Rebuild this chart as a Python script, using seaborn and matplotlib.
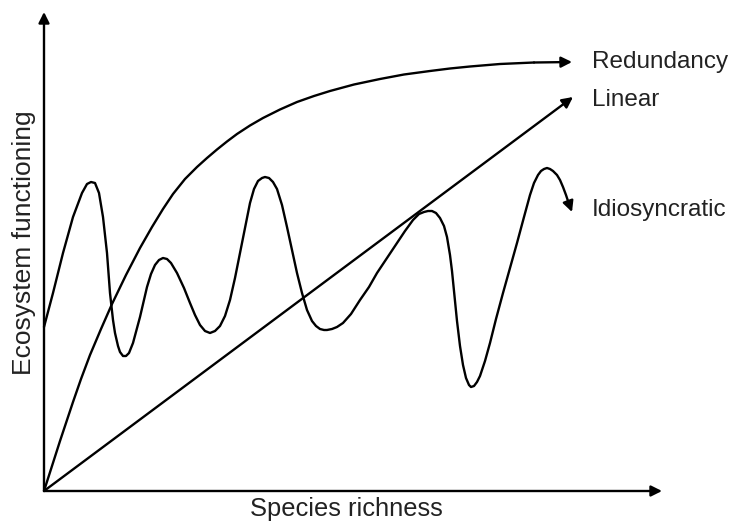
"""
Conceptual diagram: ecosystem functioning vs species richness under the
redundancy, linear and idiosyncratic hypotheses.
"""

import matplotlib
matplotlib.use("Agg")
import matplotlib.pyplot as plt
import pandas as pd
import seaborn as sns

# arbitrary units, origin at the axis corner
redundancy_x = [0, 8, 16, 23, 29, 37, 46, 57, 68, 82, 96, 108, 119, 129, 141,
                153, 163, 173, 183, 193, 206, 219, 236, 253, 270, 286, 310, 336,
                360, 386, 406, 426, 456, 490, 528]
redundancy_y = [0, 25, 50, 71, 89, 112, 136, 162, 187, 216, 243, 264, 282, 297,
                312, 324, 333, 341.5, 349.5, 357, 365.5, 373, 381.5, 389, 395,
                400, 406.5, 412, 416.5, 420, 422.5, 424.5, 427, 428.5, 429]

linear_x = [0, 529]
linear_y = [0, 394]

idio_x = [0, 9, 19, 29, 38, 43, 47, 51, 55, 59, 63, 66, 69, 71, 74, 76, 79, 82,
          85, 89, 96, 103, 107, 111, 115, 119, 123, 127, 133, 140, 146, 151,
          156, 161, 166, 171, 176, 181, 186, 191, 196, 201, 206, 210, 214, 218,
          221, 225, 229, 233, 238, 243, 248, 253, 258, 263, 268, 272, 276, 280,
          283, 288, 293, 299, 307, 316, 325, 333, 343, 353, 361, 369, 375, 380,
          384, 388, 392, 396, 400, 403, 406, 408, 410, 413, 416, 419, 422, 425,
          427, 430, 433, 436, 441, 446, 452, 459, 466, 473, 480, 486, 490, 494,
          497, 500, 503, 506, 509, 513, 516, 519, 522, 524]
idio_y = [164, 198, 238, 274, 298, 307, 309, 308, 298, 274, 238, 198, 171, 158,
          145, 139, 135, 135, 138, 148, 174, 204, 217, 226, 231, 233, 232, 228,
          218, 203, 188, 176, 166, 160, 158, 160, 165, 175, 191, 213, 238, 263,
          288, 302, 310, 313, 314, 313, 309, 302, 286, 264, 241, 218, 198, 181,
          170, 165, 162, 161, 161, 162, 164, 168, 177, 191, 204, 218, 233, 248,
          260, 271, 277, 279, 280, 280, 278, 273, 265, 254, 236, 220, 200, 170,
          145, 126, 113, 106, 104, 105, 109, 115, 130, 148, 172, 198, 223, 248,
          274, 296, 308, 316, 320, 322, 323, 322, 320, 316, 311, 304, 296, 290]
idio_tip = (528, 279)

y_axis_top = 479
x_axis_end = 618

curve_labels = ["Redundancy", "Linear", "Idiosyncratic"]
label_y = [429, 391, 281]

INK = "black"
TEXT = "#222222"
LW = 1.7


def arrow(ax, start, end):
    ax.annotate("", xy=end, xytext=start,
                arrowprops=dict(arrowstyle="-|>", color=INK, lw=LW,
                                mutation_scale=16, shrinkA=0, shrinkB=0))


def main():
    sns.set_theme(style="white")
    plt.rcParams["font.family"] = ["Liberation Sans", "DejaVu Sans"]

    fig = plt.figure(figsize=(7.35, 5.22), dpi=100)
    ax = fig.add_axes([0, 0, 1, 1])

    red = pd.DataFrame({"x": redundancy_x, "y": redundancy_y})
    lin = pd.DataFrame({"x": linear_x, "y": linear_y})
    idio = pd.DataFrame({"x": idio_x, "y": idio_y})

    # stop the line just short of the tip so the arrowhead sits on the end
    sns.lineplot(data=red.iloc[:-1], x="x", y="y", sort=False, estimator=None,
                 color=INK, lw=LW, ax=ax, solid_joinstyle="round")
    arrow(ax, (red.x.iloc[-2], red.y.iloc[-2]), (red.x.iloc[-1], red.y.iloc[-1]))

    arrow(ax, (lin.x.iloc[0], lin.y.iloc[0]), (lin.x.iloc[-1], lin.y.iloc[-1]))

    sns.lineplot(data=idio, x="x", y="y", sort=False, estimator=None,
                 color=INK, lw=LW, ax=ax, solid_joinstyle="round")
    arrow(ax, (idio.x.iloc[-1], idio.y.iloc[-1]), idio_tip)

    # axes drawn as arrows
    arrow(ax, (0, 0), (0, y_axis_top))
    arrow(ax, (0, 0), (x_axis_end, 0))

    for name, y in zip(curve_labels, label_y):
        ax.text(548, y, name, ha="left", va="center", fontsize=17.5, color=TEXT)

    ax.text(302, -18, "Species richness", ha="center", va="center",
            fontsize=18.4, color=TEXT)
    ax.text(-20, 248, "Ecosystem functioning", ha="center", va="center",
            rotation=90, fontsize=19, color=TEXT)

    ax.set_xlim(-44, 691)
    ax.set_ylim(-31, 491)
    ax.axis("off")

    fig.savefig("out.png", dpi=100)
    plt.close(fig)


if __name__ == "__main__":
    main()
